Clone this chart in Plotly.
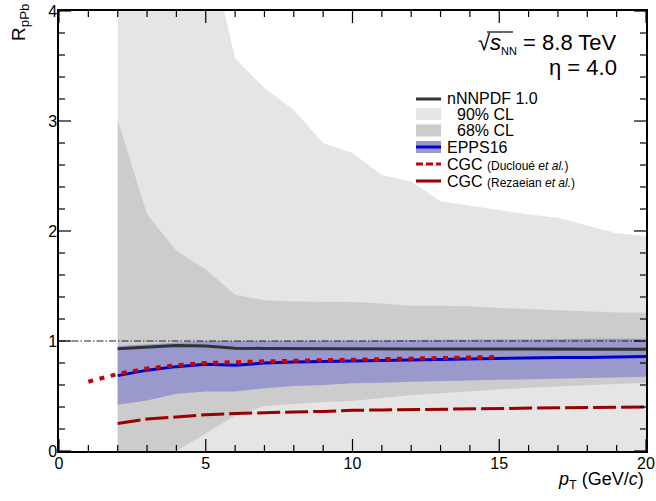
import plotly.graph_objects as go

# ---------------- data ----------------
pt = [2, 3, 4, 5, 6, 7, 8, 9, 10, 11, 12, 13, 14, 15, 16, 17, 18, 19, 20]

nnpdf_cl90_up = [12.0, 10.0, 8.0, 4.73, 3.57, 3.30, 3.10, 2.80, 2.71, 2.51, 2.45, 2.27, 2.23, 2.19, 2.15, 2.12, 2.05, 1.98, 1.955]
nnpdf_cl90_lo = [-2.0, -1.6, -1.2, -0.9, -0.6, -0.5, -0.45, -0.4, -0.35, -0.3, -0.3, -0.25, -0.25, -0.2, -0.2, -0.15, -0.15, -0.1, -0.1]
nnpdf_cl68_up = [3.01, 2.15, 1.82, 1.65, 1.42, 1.37, 1.36, 1.36, 1.355, 1.34, 1.32, 1.32, 1.315, 1.30, 1.29, 1.275, 1.27, 1.26, 1.257]
nnpdf_cl68_lo = [-0.6, -0.3, 0.0, 0.16, 0.32, 0.41, 0.43, 0.445, 0.455, 0.48, 0.51, 0.525, 0.54, 0.56, 0.575, 0.59, 0.60, 0.61, 0.62]
nnpdf_central = [0.93, 0.945, 0.96, 0.955, 0.935, 0.932, 0.93, 0.93, 0.928, 0.928, 0.927, 0.927, 0.926, 0.926, 0.925, 0.925, 0.925, 0.925, 0.925]

epps_central = [0.685, 0.735, 0.767, 0.788, 0.78, 0.80, 0.81, 0.815, 0.82, 0.825, 0.83, 0.835, 0.84, 0.845, 0.848, 0.85, 0.85, 0.855, 0.86]
epps_up = [0.955, 0.97, 0.99, 1.0, 1.0, 1.0, 1.0, 1.0, 1.005, 1.005, 1.01, 1.01, 1.01, 1.015, 1.015, 1.015, 1.02, 1.02, 1.02]
epps_lo = [0.42, 0.46, 0.52, 0.54, 0.54, 0.57, 0.59, 0.60, 0.615, 0.62, 0.63, 0.64, 0.645, 0.65, 0.655, 0.66, 0.665, 0.67, 0.675]

pt_ducloue = [1, 2, 3, 4, 5, 6, 7, 8, 9, 10, 11, 12, 13, 14, 15]
cgc_ducloue = [0.63, 0.70, 0.75, 0.78, 0.80, 0.81, 0.815, 0.82, 0.825, 0.83, 0.835, 0.84, 0.845, 0.85, 0.855]

pt_rezaeian = [2, 3, 4, 5, 6, 7, 8, 9, 10, 11, 12, 13, 14, 15, 16, 17, 18, 19, 20]
cgc_rezaeian = [0.25, 0.29, 0.31, 0.33, 0.34, 0.35, 0.355, 0.36, 0.37, 0.373, 0.377, 0.38, 0.385, 0.388, 0.39, 0.393, 0.396, 0.398, 0.40]

ref_x = [0, 20]
ref_y = [1, 1]

x_major = [0, 5, 10, 15, 20]
x_minor = [1, 2, 3, 4, 6, 7, 8, 9, 11, 12, 13, 14, 16, 17, 18, 19]
y_major = [0, 1, 2, 3, 4]
y_minor = [0.2, 0.4, 0.6, 0.8, 1.2, 1.4, 1.6, 1.8, 2.2, 2.4, 2.6, 2.8, 3.2, 3.4, 3.6, 3.8]

# ---------------- styles ----------------
C90 = "#e5e5e5"
C68 = "#cccccc"
CEPPS = "#9999cc"
FONT = "Liberation Sans, Arial, Helvetica, sans-serif"

W, H = 656, 501
L, R, T, B = 59, 10, 11, 50
PW, PH = W - L - R, H - T - B


def px(xp):
    return (xp - L) / PW


def py(yp):
    return (H - B - yp) / PH


def band(x, up, lo, color):
    return go.Scatter(x=list(x) + list(x)[::-1], y=list(up) + list(lo)[::-1],
                      fill="toself", fillcolor=color, line=dict(width=0),
                      mode="lines", hoverinfo="skip", showlegend=False)


fig = go.Figure()
fig.add_trace(band(pt, nnpdf_cl90_up, nnpdf_cl90_lo, C90))
fig.add_trace(band(pt, nnpdf_cl68_up, nnpdf_cl68_lo, C68))
fig.add_trace(band(pt, epps_up, epps_lo, CEPPS))
fig.add_trace(go.Scatter(x=ref_x, y=ref_y, mode="lines",
                         line=dict(color="#222222", width=1.2, dash="7px,2px,1.5px,2px"), showlegend=False))
fig.add_trace(go.Scatter(x=pt, y=nnpdf_central, mode="lines",
                         line=dict(color="#333333", width=3), showlegend=False))
fig.add_trace(go.Scatter(x=pt, y=epps_central, mode="lines",
                         line=dict(color="#0000cc", width=3), showlegend=False))
fig.add_trace(go.Scatter(x=pt_ducloue, y=cgc_ducloue, mode="lines",
                         line=dict(color="#cc0000", width=4, dash="5px,6.5px"), showlegend=False))
fig.add_trace(go.Scatter(x=pt_rezaeian, y=cgc_rezaeian, mode="lines",
                         line=dict(color="#990000", width=3, dash="23px,5px"), showlegend=False))

axis_common = dict(showgrid=False, zeroline=False, showline=True, linecolor="black", linewidth=1.5,
                   mirror=True, ticks="", layer="above traces",
                   tickfont=dict(family=FONT, size=16, color="black"))
fig.update_xaxes(range=[0, 20], tickmode="array", tickvals=x_major, ticktext=[str(v) for v in x_major],
                 ticklabelstandoff=-3, **axis_common)
fig.update_yaxes(range=[0, 4], tickmode="array", tickvals=y_major, ticktext=[str(v) for v in y_major],
                 ticklabelstandoff=-3, **axis_common)

shapes = []
annotations = []

# tick marks (inside, on all four sides), placed through the axes' own scales
TICK = dict(color="black", width=1.2)
for vals, length in ((x_major, 12), (x_minor, 6)):
    for v in vals:
        shapes.append(dict(type="line", xref="x", yref="paper", x0=v, x1=v, y0=0, y1=length / PH, line=TICK))
        shapes.append(dict(type="line", xref="x", yref="paper", x0=v, x1=v, y0=1, y1=1 - length / PH, line=TICK))
for vals, length in ((y_major, 12), (y_minor, 6)):
    for v in vals:
        shapes.append(dict(type="line", xref="paper", yref="y", x0=0, x1=length / PW, y0=v, y1=v, line=TICK))
        shapes.append(dict(type="line", xref="paper", yref="y", x0=1, x1=1 - length / PW, y0=v, y1=v, line=TICK))

# axis titles
annotations.append(dict(text="R<sub>pPb</sub>", x=px(20), y=py(23), xref="paper", yref="paper",
                        textangle=-90, showarrow=False, xanchor="center", yanchor="middle",
                        font=dict(family=FONT, size=19, color="black")))
annotations.append(dict(text="<i>p</i><sub>T</sub> (GeV/<i>c</i>)", x=px(646), y=py(480),
                        xref="paper", yref="paper", showarrow=False, xanchor="right", yanchor="middle",
                        font=dict(family=FONT, size=18, color="black")))

# energy / eta labels
annotations.append(dict(text="√<i>s</i><sub><span style='font-size:11px'>NN</span></sub> = 8.8 TeV",
                        x=px(619), y=py(44), xref="paper", yref="paper", showarrow=False,
                        xanchor="right", yanchor="middle", font=dict(family=FONT, size=22, color="black")))
annotations.append(dict(text="η = 4.0", x=px(619), y=py(67), xref="paper", yref="paper", showarrow=False,
                        xanchor="right", yanchor="middle", font=dict(family=FONT, size=22, color="black")))
shapes.append(dict(type="line", xref="paper", yref="paper", x0=px(487), x1=px(513), y0=py(32), y1=py(32),
                   line=dict(color="black", width=1.2)))

# legend
rows = [99, 114, 130.5, 147, 164, 181]
x0s, x1s = px(416), px(441)
shapes.append(dict(type="line", xref="paper", yref="paper", x0=x0s, x1=x1s, y0=py(rows[0]), y1=py(rows[0]),
                   line=dict(color="#333333", width=3)))
shapes.append(dict(type="rect", xref="paper", yref="paper", x0=x0s, x1=x1s, y0=py(rows[1] + 6), y1=py(rows[1] - 6),
                   fillcolor=C90, line=dict(width=0)))
shapes.append(dict(type="rect", xref="paper", yref="paper", x0=x0s, x1=x1s, y0=py(rows[2] + 6), y1=py(rows[2] - 6),
                   fillcolor=C68, line=dict(width=0)))
shapes.append(dict(type="rect", xref="paper", yref="paper", x0=x0s, x1=x1s, y0=py(rows[3] + 6), y1=py(rows[3] - 6),
                   fillcolor=CEPPS, line=dict(width=0)))
shapes.append(dict(type="line", xref="paper", yref="paper", x0=x0s, x1=x1s, y0=py(rows[3]), y1=py(rows[3]),
                   line=dict(color="#0000cc", width=3)))
shapes.append(dict(type="line", xref="paper", yref="paper", x0=x0s, x1=x1s, y0=py(rows[4]), y1=py(rows[4]),
                   line=dict(color="#cc0000", width=3, dash="7px,3px")))
shapes.append(dict(type="line", xref="paper", yref="paper", x0=x0s, x1=x1s, y0=py(rows[5]), y1=py(rows[5]),
                   line=dict(color="#990000", width=3)))

leg_texts = [
    (445, "nNNPDF 1.0"),
    (455, "90% CL"),
    (455, "68% CL"),
    (445, "EPPS16"),
    (445, "CGC <span style='font-size:12px'>(Ducloué <i>et al.</i>)</span>"),
    (445, "CGC <span style='font-size:12px'>(Rezaeian <i>et al.</i>)</span>"),
]
for (xt, txt), yr in zip(leg_texts, rows):
    annotations.append(dict(text=txt, x=px(xt), y=py(yr), xref="paper", yref="paper", showarrow=False,
                            xanchor="left", yanchor="middle", font=dict(family=FONT, size=16, color="black")))

fig.update_layout(width=W, height=H, margin=dict(l=L, r=R, t=T, b=B, autoexpand=False),
                  plot_bgcolor="white", paper_bgcolor="white", showlegend=False,
                  shapes=shapes, annotations=annotations)

fig.write_html("out.html", config={"displayModeBar": False},
               post_script="document.body.style.margin='0';document.body.style.overflow='hidden';")
